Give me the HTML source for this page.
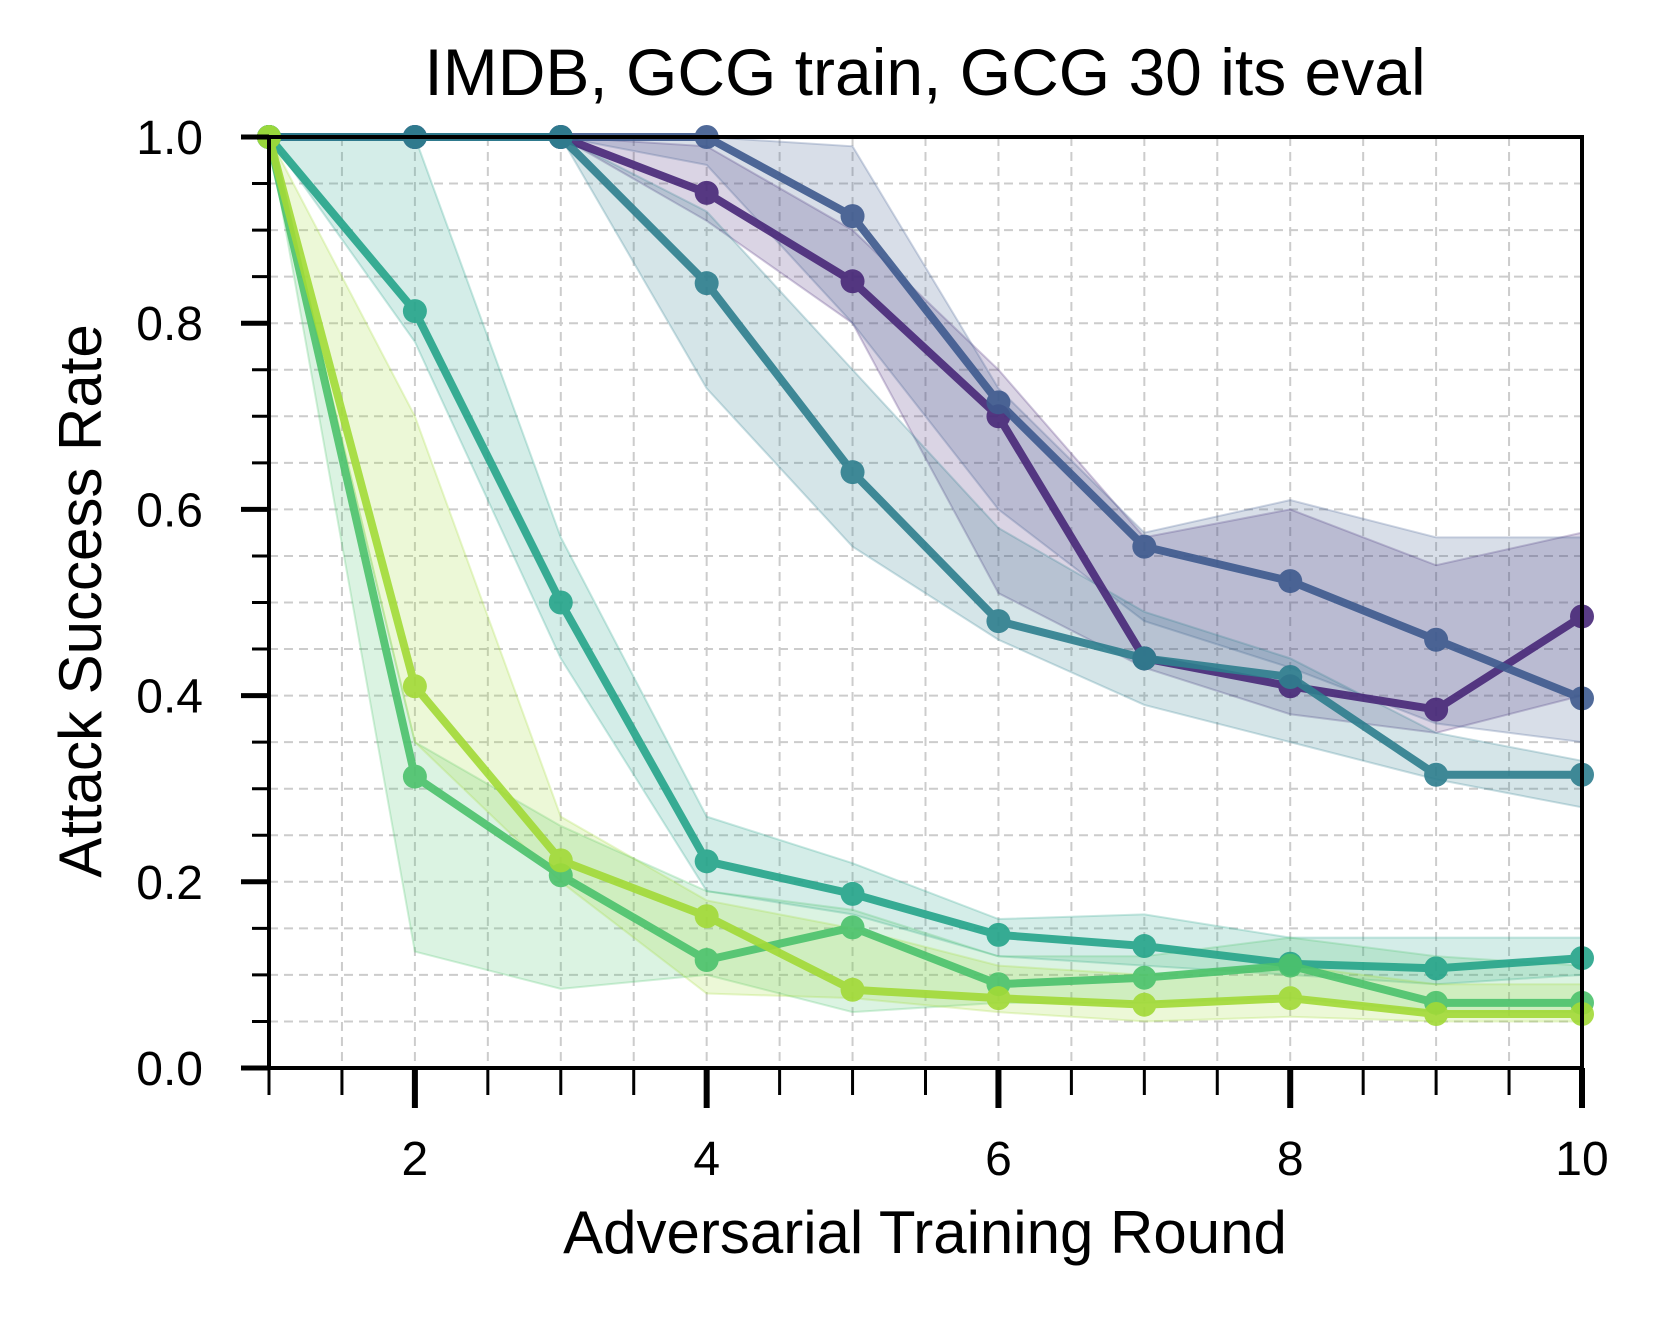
<!DOCTYPE html>
<html><head><meta charset="utf-8"><style>
body{margin:0;background:#fff}
text{font-family:"Liberation Sans",Arial,sans-serif;fill:#000}
</style></head><body>
<svg id="chart" width="1661" height="1313" viewBox="0 0 1661 1313" xmlns="http://www.w3.org/2000/svg">
<g id="grid"></g>
<g id="bands"></g>
<g id="lines"></g>
<g id="axes"></g>
<text x="925" y="95" font-size="66" text-anchor="middle">IMDB, GCG train, GCG 30 its eval</text>
<text x="925" y="1253" font-size="60" text-anchor="middle">Adversarial Training Round</text>
<text transform="translate(101,601) rotate(-90)" font-size="60" text-anchor="middle">Attack Success Rate</text>
</svg>
<script>
const rounds=[1,2,3,4,5,6,7,8,9,10];
const colors=['#482878','#3e5a8e','#2e7e8e','#26a48a','#4cc26c','#a2da37'];
const s1=[1,1,1,0.94,0.845,0.70,0.44,0.41,0.385,0.485];
const s2=[1,1,1,1,0.915,0.715,0.56,0.523,0.46,0.397];
const s3=[1,1,1,0.843,0.64,0.48,0.44,0.42,0.315,0.315];
const s4=[1,0.813,0.50,0.222,0.187,0.143,0.131,0.112,0.107,0.118];
const s5=[1,0.313,0.207,0.116,0.151,0.09,0.097,0.11,0.07,0.07];
const s6=[1,0.41,0.223,0.163,0.084,0.075,0.068,0.075,0.058,0.058];
const u1=[1,1,1,0.99,0.90,0.75,0.57,0.60,0.54,0.575];
const l1=[1,1,1,0.91,0.80,0.51,0.43,0.38,0.36,0.40];
const u2=[1,1,1,1,0.99,0.73,0.575,0.61,0.57,0.57];
const l2=[1,1,1,0.97,0.80,0.60,0.48,0.43,0.37,0.35];
const u3=[1,1,1,0.92,0.75,0.58,0.49,0.44,0.36,0.33];
const l3=[1,1,1,0.73,0.56,0.46,0.39,0.35,0.31,0.28];
const u4=[1,1,0.57,0.27,0.22,0.16,0.165,0.14,0.14,0.14];
const l4=[1,0.78,0.44,0.19,0.165,0.12,0.11,0.10,0.09,0.10];
const u5=[1,0.35,0.26,0.19,0.17,0.12,0.12,0.14,0.12,0.11];
const l5=[1,0.125,0.085,0.10,0.06,0.07,0.07,0.075,0.06,0.06];
const u6=[1,0.70,0.27,0.18,0.15,0.11,0.10,0.11,0.09,0.09];
const l6=[1,0.35,0.20,0.08,0.075,0.06,0.05,0.055,0.05,0.05];
const xTickLabels=['2','4','6','8','10'];
const yTickLabels=['0.0','0.2','0.4','0.6','0.8','1.0'];

const X0=269,X1=1582,Y0=1068,Y1=137;
const xs=v=>X0+(v-1)/9*(X1-X0);
const ys=v=>Y0-v*(Y0-Y1);
const NS='http://www.w3.org/2000/svg';
function mk(tag,parent,attrs){const e=document.createElementNS(NS,tag);for(const k in attrs)e.setAttribute(k,attrs[k]);parent.appendChild(e);return e;}
const grid=document.getElementById('grid'),bands=document.getElementById('bands'),lines=document.getElementById('lines'),axes=document.getElementById('axes');
for(let v=1.5;v<10;v+=0.5){const g=mk('line',grid,{x1:xs(v),x2:xs(v),y1:Y1,y2:Y0,stroke:'#ccc','stroke-width':2,'stroke-dasharray':'9,6'});

}
for(let i=1;i<20;i++){const v=i*0.05;const g=mk('line',grid,{x1:X0,x2:X1,y1:ys(v),y2:ys(v),stroke:'#ccc','stroke-width':2,'stroke-dasharray':'9,6'});

}
const S=[s1,s2,s3,s4,s5,s6],U=[u1,u2,u3,u4,u5,u6],L=[l1,l2,l3,l4,l5,l6];
S.forEach((s,k)=>{
 let d='M'+rounds.map((r,i)=>xs(r)+','+ys(U[k][i])).join('L')+'L'+rounds.slice().reverse().map((r,j)=>{const i=rounds.length-1-j;return xs(r)+','+ys(L[k][i]);}).join('L')+'Z';
 const b=mk('path',bands,{d:d,fill:colors[k],'fill-opacity':0.2,stroke:colors[k],'stroke-opacity':0.25,'stroke-width':2});
 
 
});
S.forEach((s,k)=>{
 const g=mk('g',lines,{opacity:0.9});
 
 
 const p=mk('polyline',g,{points:rounds.map((r,i)=>xs(r)+','+ys(s[i])).join(' '),fill:'none',stroke:colors[k],'stroke-width':8,'stroke-linejoin':'round'});
 
 
 rounds.forEach((r,i)=>{const c=mk('circle',g,{cx:xs(r),cy:ys(s[i]),r:12,fill:colors[k]});
 
 });
});
const fr=mk('rect',axes,{x:X0,y:Y1,width:X1-X0,height:Y0-Y1,fill:'none',stroke:'#000','stroke-width':4});


for(let i=0;i<=20;i++){const v=i*0.05;const major=i%4===0;const t=mk('line',axes,{x1:X0-(major?28:17),x2:X0,y1:ys(v),y2:ys(v),stroke:'#000','stroke-width':major?5:3});

}
yTickLabels.forEach((lab,i)=>{const t=mk('text',axes,{x:X0-66,y:ys(i*0.2)+17,'font-size':48,'text-anchor':'end'});t.textContent=lab;

});
for(let v=1;v<=10;v+=0.5){const major=(v%2===0);const t=mk('line',axes,{x1:xs(v),x2:xs(v),y1:Y0,y2:Y0+(major?40:27),stroke:'#000','stroke-width':major?6:3});

}
xTickLabels.forEach((lab,i)=>{const t=mk('text',axes,{x:xs((i+1)*2),y:Y0+107,'font-size':48,'text-anchor':'middle'});t.textContent=lab;

});
</script>
</body></html>
